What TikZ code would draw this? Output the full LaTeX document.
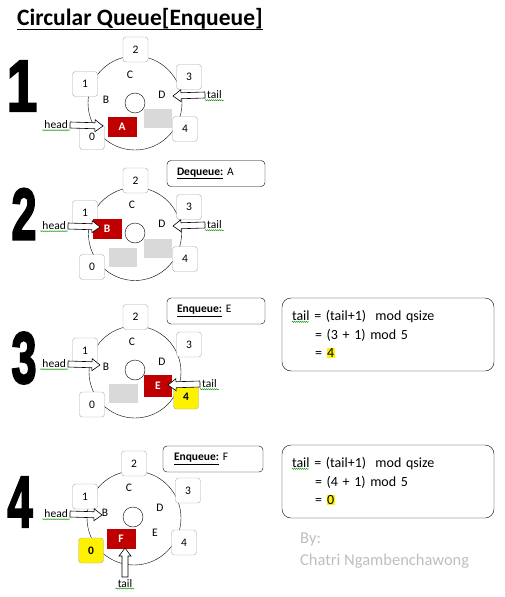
\documentclass[tikz,border=0pt]{standalone}
\usepackage{fontspec}
\setmainfont{Carlito}
\newfontfamily\bignumfont{Liberation Sans}
\usepackage{xcolor}
\usetikzlibrary{positioning,calc,decorations.pathmorphing}

\definecolor{qred}{RGB}{192,0,0}
\definecolor{qgray}{RGB}{217,217,217}
\definecolor{slotline}{RGB}{170,170,170}
\definecolor{credit}{RGB}{190,190,190}

\newcommand{\hlite}[1]{{\setlength{\fboxsep}{0.6pt}\colorbox{yellow}{#1}}}
\newcommand{\heavydigit}[1]{\special{pdf:literal direct 2 Tr 2.2 w}#1\special{pdf:literal direct 0 Tr 1 w}}
\newcommand{\hollowarrow}[2]{%
  \draw[fill=white, line width=0.6pt] let \p1=(#1), \p2=(#2),
    \n1={atan2(\y2-\y1,\x2-\x1)}, \n2={veclen(\x2-\x1,\y2-\y1)} in
    [shift={(\p1)}, rotate=\n1]
    (0pt,-3pt) -- ({\n2*1pt-8pt},-3pt) -- ({\n2*1pt-8pt},-6pt) -- ({\n2*1pt},0pt)
    -- ({\n2*1pt-8pt},6pt) -- ({\n2*1pt-8pt},3pt) -- (0pt,3pt) -- cycle;}

\begin{document}
\begin{tikzpicture}[x=1pt, y=-1pt,
    slot/.style={rectangle, draw=slotline, fill=white, rounded corners=3pt, minimum size=25pt, inner sep=0pt, font=\fontsize{11.5}{13}\selectfont},
    hotslot/.style={slot, fill=yellow, font=\bfseries\fontsize{11.5}{13}\selectfont},
    cell/.style={inner sep=0pt, font=\fontsize{11.5}{13}\selectfont},
    headcell/.style={rectangle, fill=qred, text=white, minimum width=29pt, minimum height=20pt, inner sep=0pt, font=\bfseries\fontsize{11.5}{13}\selectfont},
    emptycell/.style={rectangle, fill=qgray, minimum width=28pt, minimum height=19pt, inner sep=0pt},
    ptrlabel/.style={inner sep=2pt, font=\fontsize{11.5}{13}\selectfont},
    opbox/.style={rectangle, draw, rounded corners=4pt, minimum width=98pt, minimum height=26pt, text width=78pt, align=left, inner xsep=10pt, font=\fontsize{11.5}{13}\selectfont},
    formbox/.style={rectangle, draw, rounded corners=9pt, minimum width=212pt, minimum height=73pt, text width=192pt, align=left, inner xsep=10pt, font=\fontsize{14}{18.5}\selectfont},
    bignum/.style={inner sep=0pt, font=\bignumfont\bfseries\fontsize{73}{73}\selectfont},
    squiggle/.style={green!55!black, line width=0.4pt, decorate, decoration={snake, amplitude=0.6pt, segment length=2pt}}
]
\useasboundingbox (0,0) rectangle (505,597);

% Title
\node[anchor=base west, inner sep=0pt, font=\bfseries\fontsize{23.5}{26}\selectfont] (title) at (17,25) {Circular Queue[Enqueue]};
\draw[line width=1.6pt] ([yshift=-4.5pt]title.base west) -- ([yshift=-4.5pt]title.base east);

% Step 1
\node[bignum] (num1) at (22,86) {\scalebox{0.75}[1]{\heavydigit{1}}};
\draw (135,103) circle [radius=47];
\node[circle, draw, minimum size=20pt, inner sep=0pt] (hole1) at (135,103) {};
\node[slot] (q1s2) at (135.5,49.5) {2};
\node[slot] (q1s1) at (85,84) {1};
\node[slot] (q1s3) at (189,77) {3};
\node[slot] (q1s4) at (185,129) {4};
\node[slot] (q1s0) at (92,137) {0};
\node[cell] (q1c) at (130,75) {C};
\node[cell] (q1b) at (106,100) {B};
\node[cell] (q1d) at (162,95) {D};
\node[headcell] (q1a) at (122,127) {A};
\node[emptycell] (q1e) at (158,118) {};
\node[ptrlabel, anchor=east] (head1) at (70,125) {head};
\node[ptrlabel, anchor=west] (tail1) at (205,95) {tail};
\coordinate (hp1) at (103,126);
\coordinate (tp1) at (173,96);
\hollowarrow{head1.east}{hp1}
\hollowarrow{tail1.west}{tp1}
\draw[squiggle] ([yshift=1pt]head1.south west) -- ([yshift=1pt]head1.south east);
\draw[squiggle] ([yshift=1pt]tail1.south west) -- ([yshift=1pt]tail1.south east);

% Step 2
\node[bignum] (num2) at (24,214) {\scalebox{0.62}[1]{\heavydigit{2}}};
\draw (135,234) circle [radius=46.5];
\node[circle, draw, minimum size=20pt, inner sep=0pt] (hole2) at (135,233) {};
\node[slot] (q2s2) at (135.5,180.5) {2};
\node[slot] (q2s1) at (85,213) {1};
\node[slot] (q2s3) at (189,207) {3};
\node[slot] (q2s4) at (185,259) {4};
\node[slot] (q2s0) at (92,267) {0};
\node[cell] (q2c) at (132,205) {C};
\node[cell] (q2d) at (162,224) {D};
\node[headcell] (q2b) at (107,229) {B};
\node[emptycell] (q2e) at (123,257) {};
\node[emptycell] (q2f) at (158,248) {};
\node[ptrlabel, anchor=east] (head2) at (68,226) {head};
\node[ptrlabel, anchor=west] (tail2) at (205,225) {tail};
\coordinate (hp2) at (100,227);
\coordinate (tp2) at (173,226);
\hollowarrow{head2.east}{hp2}
\hollowarrow{tail2.west}{tp2}
\draw[squiggle] ([yshift=1pt]head2.south west) -- ([yshift=1pt]head2.south east);
\draw[squiggle] ([yshift=1pt]tail2.south west) -- ([yshift=1pt]tail2.south east);
\node[opbox] (op2) at (216,173.5) {\underline{\textbf{Dequeue:}} A};

% Step 3
\node[bignum] (num3) at (24,358) {\scalebox{0.62}[1]{\heavydigit{3}}};
\draw (135,372) circle [radius=46];
\node[circle, draw, minimum size=20pt, inner sep=0pt] (hole3) at (135,370) {};
\node[slot] (q3s2) at (135.5,317) {2};
\node[slot] (q3s1) at (85,350.5) {1};
\node[slot] (q3s3) at (189,344.5) {3};
\node[slot] (q3s0) at (92,404.5) {0};
\node[cell] (q3c) at (132,342) {C};
\node[cell] (q3d) at (162,362) {D};
\node[cell] (q3b) at (106,367) {B};
\node[headcell, minimum width=28pt, minimum height=22pt] (q3e) at (158,386) {E};
\node[emptycell, minimum width=29pt] (q3f) at (123,393.5) {};
\node[hotslot] (q3s4) at (186,396.5) {4};
\node[ptrlabel, anchor=east] (head3) at (68,364) {head};
\node[ptrlabel, anchor=west] (tail3) at (200,384) {tail};
\coordinate (hp3) at (100,365);
\coordinate (tp3) at (168,385);
\hollowarrow{head3.east}{hp3}
\hollowarrow{tail3.west}{tp3}
\draw[squiggle] ([yshift=1pt]head3.south west) -- ([yshift=1pt]head3.south east);
\draw[squiggle] ([yshift=1pt]tail3.south west) -- ([yshift=1pt]tail3.south east);
\node[opbox] (op3) at (216,311) {\underline{\textbf{Enqueue:}} E};
\node[formbox] (calc3) at (388,334.5) {tail = (tail+1)~ mod qsize\\\hspace*{23pt}= (3 + 1) mod 5\\\hspace*{23pt}= \hlite{4}};
\draw[squiggle] ($(calc3.north west)+(10,24)$) -- ($(calc3.north west)+(27,24)$);

% Step 4
\node[bignum] (num4) at (20,502) {\scalebox{0.62}[1]{\heavydigit{4}}};
\draw (134,518) circle [radius=47];
\node[circle, draw, minimum size=20pt, inner sep=0pt] (hole4) at (133,517) {};
\node[slot] (q4s2) at (134,463.5) {2};
\node[slot] (q4s1) at (85,496.5) {1};
\node[slot] (q4s3) at (188,490.5) {3};
\node[slot] (q4s4) at (184,542.5) {4};
\node[hotslot] (q4s0) at (91,550.5) {0};
\node[cell] (q4c) at (129,488) {C};
\node[cell] (q4d) at (160,508) {D};
\node[cell] (q4e) at (155,533) {E};
\node[cell] (q4b) at (105,513) {B};
\node[headcell] (q4f) at (121,539) {F};
\node[ptrlabel, anchor=east] (head4) at (70,514) {head};
\node[ptrlabel, anchor=north] (tail4) at (125,577) {tail};
\coordinate (hp4) at (102,515);
\coordinate (tp4) at (125,548);
\hollowarrow{head4.east}{hp4}
\hollowarrow{tail4.north}{tp4}
\draw[squiggle] ([yshift=1pt]head4.south west) -- ([yshift=1pt]head4.south east);
\draw[squiggle] ([yshift=1pt]tail4.south west) -- ([yshift=1pt]tail4.south east);
\node[opbox, minimum width=100pt] (op4) at (213,459) {\underline{\textbf{Enqueue:}} F};
\node[formbox] (calc4) at (388,481.5) {tail = (tail+1)~ mod qsize\\\hspace*{23pt}= (4 + 1) mod 5\\\hspace*{23pt}= \hlite{0}};
\draw[squiggle] ($(calc4.north west)+(10,24)$) -- ($(calc4.north west)+(27,24)$);

% Credit
\node[anchor=west, inner sep=0pt, align=left, text=credit, font=\fontsize{16.5}{22}\selectfont] (credit) at (300,551) {By:\\Chatri Ngambenchawong};

\end{tikzpicture}
\end{document}
